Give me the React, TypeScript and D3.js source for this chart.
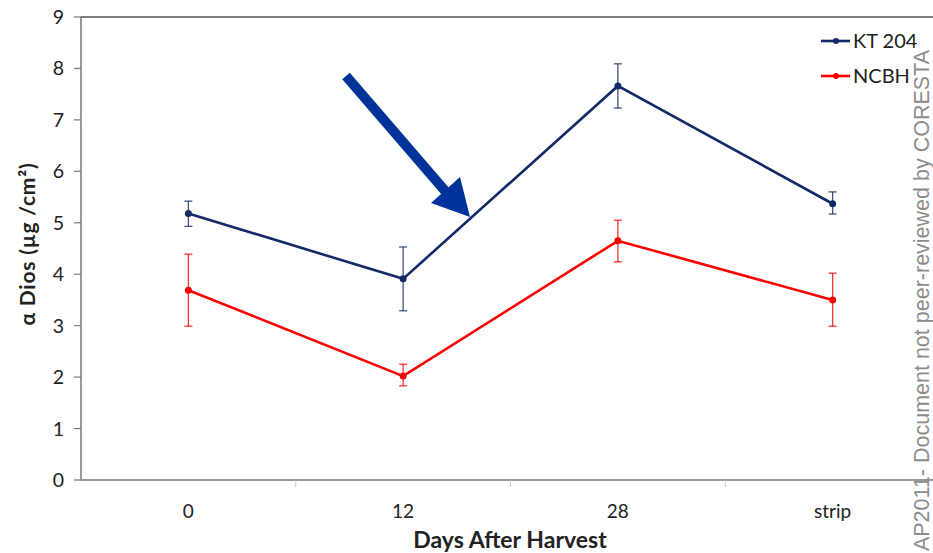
import React, { useEffect, useRef } from "react";
import * as d3 from "d3";

const categories = ["0", "12", "28", "strip"];
const kt204 = [5.18, 3.91, 7.66, 5.37];
const kt204Low = [4.93, 3.29, 7.23, 5.17];
const kt204High = [5.42, 4.53, 8.09, 5.6];
const ncbh = [3.69, 2.02, 4.65, 3.5];
const ncbhLow = [2.99, 1.83, 4.24, 2.99];
const ncbhHigh = [4.39, 2.25, 5.05, 4.02];
const yTicks = [0, 1, 2, 3, 4, 5, 6, 7, 8, 9];

const seriesList = [
  { name: "KT 204", color: "#142a66", values: kt204, low: kt204Low, high: kt204High },
  { name: "NCBH", color: "#ff0000", values: ncbh, low: ncbhLow, high: ncbhHigh },
];

function App() {
  const ref = useRef<SVGSVGElement>(null);

  useEffect(() => {
    const svg = d3.select(ref.current);
    svg.selectAll("*").remove();
    const font = "Lato, 'Open Sans', sans-serif";
    const left = 81, right = 940, top = 17, bottom = 480;

    const x = d3.scaleBand().domain(categories).range([left, right]);
    const y = d3.scaleLinear().domain([0, 9]).range([bottom, top]);

    // plot frame: top line
    svg.append("line").attr("x1", left).attr("x2", 933).attr("y1", top).attr("y2", top)
      .attr("stroke", "#555").attr("stroke-width", 1.5);

    // y axis
    svg.append("line").attr("x1", left).attr("x2", left).attr("y1", top).attr("y2", bottom)
      .attr("stroke", "#777").attr("stroke-width", 1.5);
    svg.append("g").selectAll("line").data(yTicks).enter().append("line")
      .attr("x1", left - 7).attr("x2", left).attr("y1", (d) => y(d)).attr("y2", (d) => y(d))
      .attr("stroke", "#777").attr("stroke-width", 1.2);
    svg.append("g").selectAll("text").data(yTicks).enter().append("text")
      .attr("x", left - 17).attr("y", (d) => y(d) + 7)
      .attr("text-anchor", "end").attr("font-family", font).attr("font-size", 19.5)
      .attr("fill", "#222").text((d) => d);

    // x axis
    svg.append("line").attr("x1", left).attr("x2", 933).attr("y1", bottom).attr("y2", bottom)
      .attr("stroke", "#999").attr("stroke-width", 2);
    svg.append("g").selectAll("line").data(categories.slice(1)).enter().append("line")
      .attr("x1", (d) => x(d)!).attr("x2", (d) => x(d)!).attr("y1", bottom).attr("y2", bottom + 7)
      .attr("stroke", "#ccc").attr("stroke-width", 1);
    svg.append("g").selectAll("text").data(categories).enter().append("text")
      .attr("x", (d) => x(d)! + x.bandwidth() / 2).attr("y", bottom + 38)
      .attr("text-anchor", "middle").attr("font-family", font).attr("font-size", 19)
      .attr("fill", "#222").text((d) => d);

    // axis titles
    svg.append("text").attr("x", 510).attr("y", 548).attr("text-anchor", "middle")
      .attr("font-family", font).attr("font-weight", "bold").attr("font-size", 23)
      .attr("fill", "#222").text("Days After Harvest");
    svg.append("text").attr("transform", "translate(35,244) rotate(-90)")
      .attr("text-anchor", "middle").attr("font-family", font).attr("font-weight", "bold")
      .attr("font-size", 21).attr("letter-spacing", 0.8).attr("fill", "#222")
      .text("α Dios (µg /cm²)");

    const cx = (i: number) => x(categories[i])! + x.bandwidth() / 2;

    seriesList.forEach((s) => {
      const g = svg.append("g");
      const idx = d3.range(categories.length);
      g.selectAll("line.err").data(idx).enter().append("line")
        .attr("x1", cx).attr("x2", cx).attr("y1", (i) => y(s.low[i])).attr("y2", (i) => y(s.high[i]))
        .attr("stroke", s.color).attr("stroke-width", 1.3).attr("opacity", 0.8);
      [s.low, s.high].forEach((arr) => {
        g.selectAll(null).data(idx).enter().append("line")
          .attr("x1", (i) => cx(i) - 4).attr("x2", (i) => cx(i) + 4)
          .attr("y1", (i) => y(arr[i])).attr("y2", (i) => y(arr[i]))
          .attr("stroke", s.color).attr("stroke-width", 1.3).attr("opacity", 0.8);
      });
      const line = d3.line<number>().x((_, i) => cx(i)).y((d) => y(d));
      g.append("path").datum(s.values).attr("d", line).attr("fill", "none")
        .attr("stroke", s.color).attr("stroke-width", 2.6);
      g.selectAll("circle").data(s.values).enter().append("circle")
        .attr("cx", (_, i) => cx(i)).attr("cy", (d) => y(d)).attr("r", 3.5).attr("fill", s.color);
    });

    // legend
    const legend = svg.append("g");
    seriesList.forEach((s, i) => {
      const ly = 41 + i * 35;
      legend.append("line").attr("x1", 821).attr("x2", 850).attr("y1", ly).attr("y2", ly)
        .attr("stroke", s.color).attr("stroke-width", 2.6);
      legend.append("circle").attr("cx", 836).attr("cy", ly).attr("r", 3).attr("fill", s.color);
      legend.append("text").attr("x", 853).attr("y", ly + 7).attr("font-family", font)
        .attr("font-size", 20).attr("fill", "#222").text(s.name);
    });

    // annotation arrow
    svg.append("line").attr("x1", 346).attr("y1", 76).attr("x2", 446).attr("y2", 192)
      .attr("stroke", "#003399").attr("stroke-width", 10);
    svg.append("polygon").attr("points", "431,203 460,177 470,217").attr("fill", "#003399");

    // watermark
    svg.append("text").attr("transform", "translate(929,50) rotate(-90)")
      .attr("text-anchor", "end").attr("font-family", "'Liberation Sans', Arial, sans-serif")
      .attr("font-size", 21.5).attr("fill", "#8c8c8c")
      .text("AP2011- Document not peer-reviewed by CORESTA");
  }, []);

  return (
    <svg ref={ref} width={933} height={553}
      style={{ position: "absolute", left: 0, top: 0, background: "#fff" }} />
  );
}

export default App;
